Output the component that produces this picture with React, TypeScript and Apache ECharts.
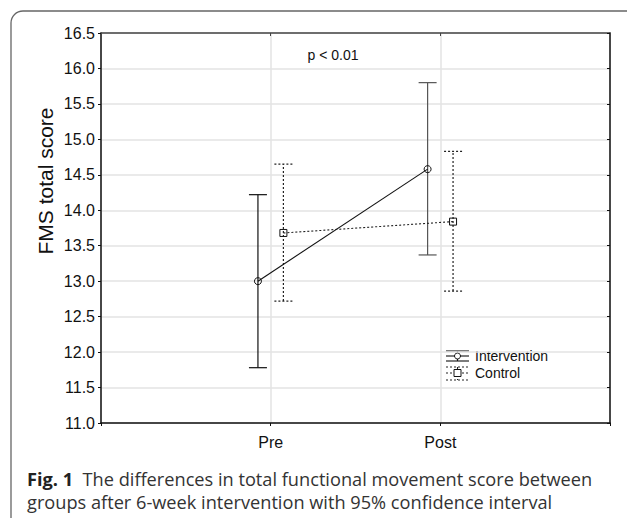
import React, { useEffect, useRef } from "react";
import * as echarts from "echarts";

// ---- data ----
const categories = ["Pre", "Post"];
const interventionMean = [13.0, 14.58];
const interventionLower = [11.78, 13.37];
const interventionUpper = [14.22, 15.8];
const controlMean = [13.68, 13.84];
const controlLower = [12.72, 12.86];
const controlUpper = [14.65, 14.83];
const yMin = 11.0;
const yMax = 16.5;
const yStep = 0.5;
const groupOffset = 0.075;
const pText = "p < 0.01";
const yTitle = "FMS total score";
const legendNames = ["Intervention", "Control"];
const captionBold = "Fig. 1";
const captionLine1 = "The differences in total functional movement score between";
const captionLine2 = "groups after 6-week intervention with 95% confidence interval";

const ARIAL = "'Liberation Sans', Arial, sans-serif";

function errorBarSeries(
  name: string,
  xs: number[],
  lo: number[],
  hi: number[],
  colors: string[],
  dash: number[] | null
) {
  const data = xs.map((x, i) => [x, lo[i], hi[i], i]);
  return {
    name,
    type: "custom",
    z: 3,
    xAxisIndex: 0,
    yAxisIndex: 0,
    data,
    encode: { x: 0, y: [1, 2] },
    renderItem: (_params: any, api: any) => {
      const x = api.value(0);
      const pLo = api.coord([x, api.value(1)]);
      const pHi = api.coord([x, api.value(2)]);
      const idx = api.value(3);
      const hw = 9;
      const style: any = {
        stroke: colors[idx] || "#111",
        lineWidth: 1.2,
        fill: "none",
      };
      if (dash) style.lineDash = dash;
      return {
        type: "group",
        children: [
          { type: "line", shape: { x1: pLo[0], y1: pLo[1], x2: pHi[0], y2: pHi[1] }, style },
          { type: "line", shape: { x1: pLo[0] - hw, y1: pLo[1], x2: pLo[0] + hw, y2: pLo[1] }, style },
          { type: "line", shape: { x1: pHi[0] - hw, y1: pHi[1], x2: pHi[0] + hw, y2: pHi[1] }, style },
        ],
      };
    },
  };
}

export default function App() {
  const ref = useRef<HTMLDivElement>(null);
  useEffect(() => {
    if (!ref.current) return;
    const chart = echarts.init(ref.current, null, { renderer: "svg" });
    const intX = categories.map((_, i) => i + 1 - groupOffset);
    const ctlX = categories.map((_, i) => i + 1 + groupOffset);

    const legendX = 446;
    const legendW = 23;
    const legendCx = legendX + legendW / 2;
    const solid = { stroke: "#111", lineWidth: 1.1 };
    const dotted = { stroke: "#222", lineWidth: 1.1, lineDash: [2, 2] };

    const option: any = {
      animation: false,
      backgroundColor: "#fff",
      grid: { left: 101, top: 33, width: 509, height: 390, containLabel: false },
      xAxis: [
        {
          type: "value",
          min: 0,
          max: 3,
          interval: 1,
          position: "bottom",
          axisLine: { show: true, lineStyle: { color: "#111", width: 1.5 } },
          axisTick: { show: true, inside: false, length: 3, lineStyle: { color: "#111" } },
          axisLabel: {
            margin: 11,
            fontFamily: ARIAL,
            fontSize: 16,
            color: "#111",
            formatter: (v: number) => categories[v - 1] ?? "",
          },
          splitLine: { show: true, lineStyle: { color: "#e3e3e3", width: 1.5 } },
        },
        {
          type: "value",
          min: 0,
          max: 3,
          interval: 1,
          position: "top",
          axisLine: { show: true, onZero: false, lineStyle: { color: "#444", width: 1.5 } },
          axisTick: { show: true, inside: true, length: 3, lineStyle: { color: "#444" } },
          axisLabel: { show: false },
          splitLine: { show: false },
        },
      ],
      yAxis: [
        {
          type: "value",
          min: yMin,
          max: yMax,
          interval: yStep,
          position: "left",
          axisLine: { show: true, lineStyle: { color: "#111", width: 1.5 } },
          axisTick: { show: true, inside: false, length: 3, lineStyle: { color: "#111" } },
          axisLabel: {
            margin: 6,
            fontFamily: ARIAL,
            fontSize: 16,
            color: "#111",
            formatter: (v: number) => v.toFixed(1),
          },
          splitLine: { show: true, lineStyle: { color: "#e3e3e3", width: 1.5 } },
        },
        {
          type: "value",
          min: yMin,
          max: yMax,
          interval: yStep,
          position: "right",
          axisLine: { show: true, onZero: false, lineStyle: { color: "#111", width: 1.5 } },
          axisTick: { show: true, inside: true, length: 3, lineStyle: { color: "#111" } },
          axisLabel: { show: false },
          splitLine: { show: false },
        },
      ],
      series: [
        errorBarSeries(legendNames[0] + " CI", intX, interventionLower, interventionUpper, ["#111", "#555"], null),
        errorBarSeries(legendNames[1] + " CI", ctlX, controlLower, controlUpper, ["#222", "#222"], [2, 2]),
        {
          name: legendNames[0],
          type: "line",
          z: 4,
          data: intX.map((x, i) => [x, interventionMean[i]]),
          symbol: "circle",
          symbolSize: 7,
          itemStyle: { color: "rgba(0,0,0,0)", borderColor: "#111", borderWidth: 1 },
          lineStyle: { color: "#111", width: 1.1 },
        },
        {
          name: legendNames[1],
          type: "line",
          z: 4,
          data: ctlX.map((x, i) => [x, controlMean[i]]),
          symbol: "rect",
          symbolSize: 7,
          itemStyle: { color: "rgba(0,0,0,0)", borderColor: "#111", borderWidth: 1 },
          lineStyle: { color: "#222", width: 1.1, type: [2, 2] },
        },
      ],
      graphic: [
        {
          type: "rect",
          z: -1,
          silent: true,
          shape: { x: 11, y: 11, width: 700, height: 600, r: [12, 0, 0, 0] },
          style: { fill: "none", stroke: "#666", lineWidth: 1.3 },
        },
        {
          type: "text",
          x: 45,
          y: 181,
          rotation: Math.PI / 2,
          style: {
            text: yTitle,
            fontFamily: ARIAL,
            fontSize: 21,
            fill: "#111",
            align: "center",
            verticalAlign: "middle",
          },
        },
        {
          type: "text",
          x: 333,
          y: 55,
          style: {
            text: pText,
            fontFamily: ARIAL,
            fontSize: 14,
            fill: "#111",
            align: "center",
            verticalAlign: "middle",
          },
        },
        // legend: intervention
        { type: "line", shape: { x1: legendX, y1: 351, x2: legendX + legendW, y2: 351 }, style: solid },
        { type: "line", shape: { x1: legendX, y1: 356, x2: legendX + legendW, y2: 356 }, style: solid },
        { type: "line", shape: { x1: legendX, y1: 361, x2: legendX + legendW, y2: 361 }, style: solid },
        { type: "line", shape: { x1: legendCx, y1: 351, x2: legendCx, y2: 361 }, style: solid },
        { type: "circle", shape: { cx: legendCx, cy: 356, r: 3 }, style: { fill: "#fff", stroke: "#111", lineWidth: 1 } },
        {
          type: "text",
          x: 475,
          y: 356,
          style: { text: legendNames[0], fontFamily: ARIAL, fontSize: 14, fill: "#111", verticalAlign: "middle" },
        },
        // legend: control
        { type: "line", shape: { x1: legendX, y1: 367, x2: legendX + legendW, y2: 367 }, style: dotted },
        { type: "line", shape: { x1: legendX, y1: 373, x2: legendX + legendW, y2: 373 }, style: dotted },
        { type: "line", shape: { x1: legendX, y1: 380, x2: legendX + legendW, y2: 380 }, style: dotted },
        { type: "line", shape: { x1: legendCx, y1: 367, x2: legendCx, y2: 380 }, style: dotted },
        { type: "rect", shape: { x: legendCx - 3.5, y: 369.5, width: 7, height: 7 }, style: { fill: "#fff", stroke: "#111", lineWidth: 1 } },
        {
          type: "text",
          x: 475,
          y: 373,
          style: { text: legendNames[1], fontFamily: ARIAL, fontSize: 14, fill: "#111", verticalAlign: "middle" },
        },
        // caption
        {
          type: "text",
          x: 27,
          y: 467,
          style: {
            text: `{b|${captionBold}}  ${captionLine1}\n${captionLine2}`,
            fontFamily: "'Open Sans', sans-serif",
            fontSize: 18.2,
            lineHeight: 23,
            fill: "#333",
            rich: {
              b: { fontFamily: "'Open Sans', sans-serif", fontSize: 18.2, fontWeight: "bold", fill: "#222", lineHeight: 23 },
            },
          },
        },
      ],
    };
    chart.setOption(option);
    return () => chart.dispose();
  }, []);
  return (
    <div
      ref={ref}
      style={{ position: "absolute", left: 0, top: 0, width: 627, height: 518, background: "#fff" }}
    />
  );
}
